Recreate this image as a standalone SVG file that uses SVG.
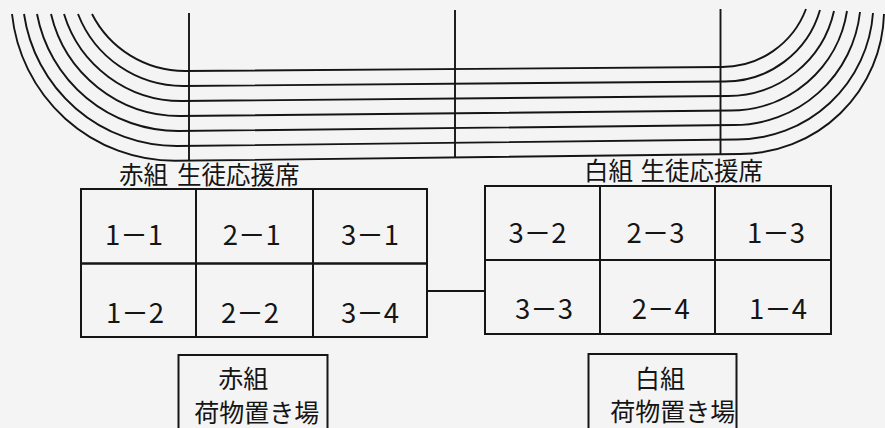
<svg xmlns="http://www.w3.org/2000/svg" width="885" height="428" viewBox="0 0 885 428">
<style>
.ln{fill:none;stroke:#151515;stroke-width:1.9}
.cell{fill:none;stroke:#151515;stroke-width:2}
.t{font-family:"Noto Sans CJK JP","Noto Sans",sans-serif;fill:#151515}
.lab{font-size:24.5px}
.num{font-size:27.5px;text-anchor:middle}
.box{font-size:25px;text-anchor:middle}
</style>
<rect x="0" y="0" width="885" height="428" fill="#f4f4f4"/>
<g id="track">
<path class="ln" d="M92,14 A104.4,104.4 0 0 0 185,71 L722,67 A89.8,89.8 0 0 0 806,9"/>
<path class="ln" d="M78,14 A113,113 0 0 0 183.3,86 L725,81.5 A98.9,98.9 0 0 0 820,10"/>
<path class="ln" d="M64,14 A123.1,123.1 0 0 0 181.7,101 L728,96 A108.6,108.6 0 0 0 834,11"/>
<path class="ln" d="M51,14 A132.6,132.6 0 0 0 180,116 L731,110.5 A117.4,117.4 0 0 0 847,11"/>
<path class="ln" d="M37,14 A143.8,143.8 0 0 0 178.3,131 L734,125 A126.7,126.7 0 0 0 860,12"/>
<path class="ln" d="M24,14 A154.3,154.3 0 0 0 176.7,146 L737,139.5 A136.4,136.4 0 0 0 873,13"/>
<path class="ln" d="M12,14 A163.9,163.9 0 0 0 175,160.8 L740,154 A144.1,144.1 0 0 0 884,14"/>
<line class="ln" x1="189" y1="13" x2="189" y2="160.5"/>
<line class="ln" x1="455" y1="10" x2="455" y2="158"/>
<line class="ln" x1="720.5" y1="9" x2="720.5" y2="154"/>
</g>
<g id="label-red"><text class="t lab" x="119" y="183.5">赤組 <tspan x="177">生徒応援席</tspan></text></g>
<g id="label-white"><text class="t lab" x="584" y="180">白組 <tspan x="640.5">生徒応援席</tspan></text></g>
<g id="c-1-1"><rect class="cell" x="81" y="189" width="115" height="74.5"/><text class="t num" x="134" y="245">1－1</text></g>
<g id="c-2-1"><rect class="cell" x="196" y="189" width="117" height="74.5"/><text class="t num" x="251.7" y="245">2－1</text></g>
<g id="c-3-1"><rect class="cell" x="313" y="189" width="114" height="74.5"/><text class="t num" x="370" y="245">3－1</text></g>
<g id="c-1-2"><rect class="cell" x="81" y="263.5" width="115" height="73.5"/><text class="t num" x="135" y="323">1－2</text></g>
<g id="c-2-2"><rect class="cell" x="196" y="263.5" width="117" height="73.5"/><text class="t num" x="250" y="323">2－2</text></g>
<g id="c-3-4"><rect class="cell" x="313" y="263.5" width="114" height="73.5"/><text class="t num" x="370" y="323">3－4</text></g>
<g id="c-3-2"><rect class="cell" x="485" y="186" width="115" height="74"/><text class="t num" x="537.5" y="243">3－2</text></g>
<g id="c-2-3"><rect class="cell" x="600" y="186" width="115" height="74"/><text class="t num" x="655.5" y="243">2－3</text></g>
<g id="c-1-3"><rect class="cell" x="715" y="186" width="116" height="74"/><text class="t num" x="776" y="243">1－3</text></g>
<g id="c-3-3"><rect class="cell" x="485" y="260" width="115" height="74"/><text class="t num" x="544" y="318.5">3－3</text></g>
<g id="c-2-4"><rect class="cell" x="600" y="260" width="115" height="74"/><text class="t num" x="660.7" y="318.5">2－4</text></g>
<g id="c-1-4"><rect class="cell" x="715" y="260" width="116" height="74"/><text class="t num" x="778" y="318.5">1－4</text></g>
<g id="connectors"><line class="cell" x1="427" y1="291" x2="485" y2="291"/></g>
<g id="box-red"><rect class="cell" x="178.5" y="355" width="149" height="100"/><text class="t box" x="243.3" y="388">赤組</text><text class="t box" x="256.7" y="422">荷物置き場</text></g>
<g id="box-white"><rect class="cell" x="588.5" y="354" width="148" height="100"/><text class="t box" x="660" y="388">白組</text><text class="t box" x="672.8" y="421">荷物置き場</text></g>
</svg>
